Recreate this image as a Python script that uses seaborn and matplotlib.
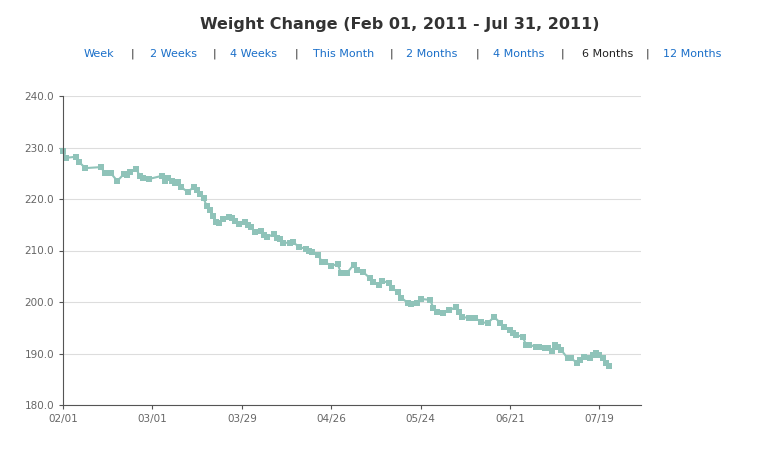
import matplotlib as mpl
from matplotlib import pyplot as plt
import pandas as pd
import numpy as np
import seaborn as sns

# Weigh-in data: days since Feb 01, 2011 and weight (lbs)
days = [0, 1, 4, 5, 7, 12, 13, 15, 17, 19, 20, 21, 23, 24, 25, 27, 31, 32, 33, 34,
        35, 36, 37, 39, 41, 42, 43, 44, 45, 46, 47, 48, 49, 50, 52, 53, 54, 55, 57, 58,
        59, 60, 62, 63, 64, 66, 67, 68, 69, 71, 72, 74, 76, 77, 78, 80, 81, 82, 84, 86,
        87, 89, 91, 92, 94, 96, 97, 99, 100, 102, 103, 105, 106, 108, 109, 111, 112, 115, 116, 117,
        119, 121, 123, 124, 125, 127, 129, 131, 133, 135, 137, 138, 140, 141, 142, 144, 145, 146, 148, 149,
        151, 152, 153, 154, 155, 156, 158, 159, 161, 162, 163, 165, 166, 167, 168, 169, 170, 171]
weights = [229.3, 228.0, 228.2, 227.2, 226.0, 226.2, 225.0, 225.0, 223.5, 224.8, 224.6, 225.2, 225.8, 224.5, 224.1, 223.9, 224.5, 223.5, 224.0, 223.5,
           223.2, 223.3, 222.3, 221.4, 222.3, 221.7, 221.0, 220.2, 218.6, 217.9, 216.7, 215.5, 215.4, 216.2, 216.6, 216.4, 215.7, 215.1, 215.5, 214.9,
           214.5, 213.6, 213.8, 213.0, 212.6, 213.2, 212.4, 212.2, 211.5, 211.5, 211.6, 210.7, 210.3, 210.0, 209.7, 209.1, 207.8, 207.8, 207.0, 207.4,
           205.7, 205.7, 207.2, 206.2, 205.8, 204.7, 203.9, 203.3, 204.1, 203.7, 202.7, 201.9, 200.8, 199.8, 199.6, 199.8, 200.6, 200.4, 198.8, 198.1,
           197.9, 198.4, 199.0, 198.1, 197.1, 196.9, 196.9, 196.1, 195.9, 197.1, 195.9, 195.1, 194.6, 194.0, 193.6, 193.2, 191.7, 191.7, 191.3, 191.3,
           191.1, 191.0, 190.5, 191.7, 191.3, 190.7, 189.1, 189.1, 188.2, 188.7, 189.3, 189.1, 189.7, 190.1, 189.7, 189.1, 188.2, 187.6]
tick_days = [0, 28, 56, 84, 112, 140, 168]
tick_labels = ["02/01", "03/01", "03/29", "04/26", "05/24", "06/21", "07/19"]
nav_links = ["Week", "2 Weeks", "4 Weeks", "This Month", "2 Months", "4 Months", "6 Months", "12 Months"]
nav_x = [99, 173, 254, 344, 432, 519, 608, 692]
sep_x = [132, 214, 296, 391, 477, 562, 647]

df = pd.DataFrame({"day": days, "weight": weights})

sns.set_style("white")
plt.rcParams['font.family'] = ['DejaVu Sans']

fig = plt.figure(figsize=(7.73, 4.54), dpi=100)
ax = fig.add_axes([63 / 773, 1 - 405 / 454, (641 - 63) / 773, (405 - 96) / 454])

sns.lineplot(data=df, x="day", y="weight", ax=ax, color="#8fc3b9", linewidth=1.5,
             marker="s", markersize=4.5, markeredgewidth=0, clip_on=False)

ax.set_xlim(0, 181)
ax.set_ylim(180, 240)
ax.set_yticks(np.arange(180, 241, 10))
ax.set_yticklabels([f"{v:.1f}" for v in np.arange(180, 241, 10)])
ax.set_xticks(tick_days)
ax.set_xticklabels(tick_labels)
ax.set_xlabel("")
ax.set_ylabel("")
ax.grid(axis="y", color="#dddddd", linewidth=0.8)
ax.set_axisbelow(True)
for s in ["top", "right"]:
    ax.spines[s].set_visible(False)
for s in ["left", "bottom"]:
    ax.spines[s].set_color("#555555")
    ax.spines[s].set_linewidth(0.8)
ax.tick_params(axis="both", labelsize=7.5, labelcolor="#666666", color="#555555",
               length=3, direction="out", left=True, bottom=True)

fig.text(400 / 773, 1 - 25 / 454, "Weight Change (Feb 01, 2011 - Jul 31, 2011)",
         ha="center", va="center", fontsize=11.5, fontweight="bold", color="#333333")
for name, x in zip(nav_links, nav_x):
    col = "#222222" if name == "6 Months" else "#1a6fc9"
    fig.text(x / 773, 1 - 54 / 454, name, ha="center", va="center", fontsize=8, color=col)
for x in sep_x:
    fig.text(x / 773, 1 - 54 / 454, "|", ha="center", va="center", fontsize=8, color="#222222")

fig.savefig("out.png", dpi=100)
